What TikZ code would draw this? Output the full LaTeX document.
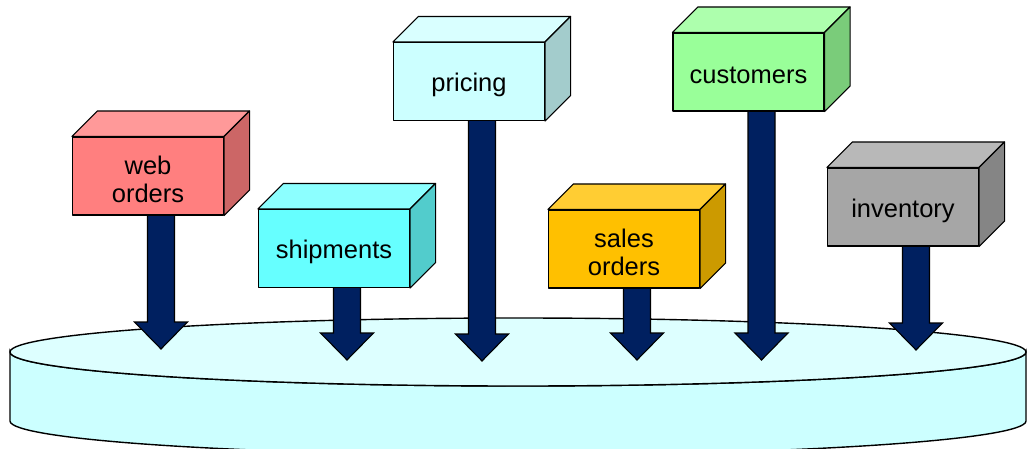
\documentclass[tikz,border=0pt]{standalone}
\usepackage{fontspec}
\setmainfont{Liberation Sans}
\usetikzlibrary{calc,backgrounds}
\definecolor{navy}{HTML}{002060}
\definecolor{cyltop}{HTML}{DDFFFF}
\definecolor{cylside}{HTML}{CCFFFF}
\definecolor{webF}{HTML}{FF7F7F}\definecolor{webT}{HTML}{FF9999}\definecolor{webS}{HTML}{CC6666}
\definecolor{shipF}{HTML}{66FFFF}\definecolor{shipT}{HTML}{8CFFFF}\definecolor{shipS}{HTML}{52CCCC}
\definecolor{priceF}{HTML}{CCFFFF}\definecolor{priceT}{HTML}{D9FFFF}\definecolor{priceS}{HTML}{A3CCCC}
\definecolor{salesF}{HTML}{FFC000}\definecolor{salesT}{HTML}{FFCD33}\definecolor{salesS}{HTML}{CC9A00}
\definecolor{custF}{HTML}{99FF99}\definecolor{custT}{HTML}{ADFFAD}\definecolor{custS}{HTML}{7ACC7A}
\definecolor{invF}{HTML}{A6A6A6}\definecolor{invT}{HTML}{B8B8B8}\definecolor{invS}{HTML}{858585}
\tikzset{
  box/.style={draw=black, line width=1.1pt, minimum width=151pt, minimum height=78pt,
    inner sep=0pt, line join=round},
  boxtext/.style={inner sep=0pt, align=center, font=\fontsize{25.5}{28.5}\selectfont},
  face/.style={draw=black, line width=1.1pt, line join=round},
  arr/.style={draw=black, fill=navy, line width=1.1pt, line join=miter},
  cyl/.style={draw=black, line width=1.4pt},
}
\newcommand\cube[8]{%
  \node[box, fill=#5] (#1) at (#2,#3) {};
  \node[boxtext] (#1text) at ($(#1.center)+(0,3.5)$) {#4};
  \draw[face, fill=#6] (#1.north west) -- ++(25.5,-25.5) -- ($(#1.north east)+(25.5,-25.5)$) -- (#1.north east) -- cycle;
  \draw[face, fill=#7] (#1.north east) -- ++(25.5,-25.5) -- ($(#1.south east)+(25.5,-25.5)$) -- (#1.south east) -- cycle;
  \coordinate (#1tip) at ({#2+13},#8);
  \begin{pgfonlayer}{background}
  \draw[arr] ($(#1.south)+(-0.5,-2)$) -- ($(#1tip)+(-13.5,-27)$) -- ($(#1tip)+(-26.5,-27)$)
    -- (#1tip) -- ($(#1tip)+(26.5,-27)$) -- ($(#1tip)+(13.5,-27)$) -- ($(#1.south)+(26.5,-2)$) -- cycle;
  \end{pgfonlayer}
}
\begin{document}
\begin{tikzpicture}[x=1pt,y=-1pt]
\useasboundingbox (0,0) rectangle (1027,448);
\clip (0,0) rectangle (1027,448);
\begin{pgfonlayer}{background}
  \draw[cyl, fill=cylside] (10,352) -- (10,421) arc[start angle=180, end angle=0, x radius=508, y radius=34]
    -- (1026,352) arc[start angle=0, end angle=180, x radius=508, y radius=34] -- cycle;
  \draw[cyl, fill=cyltop] (518,352) ellipse[x radius=508, y radius=34];
\end{pgfonlayer}
\cube{web}{148}{176}{web\\orders}{webF}{webT}{webS}{349}
\cube{ship}{334}{248.5}{shipments}{shipF}{shipT}{shipS}{360}
\cube{price}{469}{81.5}{pricing}{priceF}{priceT}{priceS}{361}
\cube{sales}{624}{249}{sales\\orders}{salesF}{salesT}{salesS}{360}
\cube{cust}{748.5}{72}{customers}{custF}{custT}{custS}{360}
\cube{inv}{903}{207}{inventory}{invF}{invT}{invS}{350}
\end{tikzpicture}
\end{document}
